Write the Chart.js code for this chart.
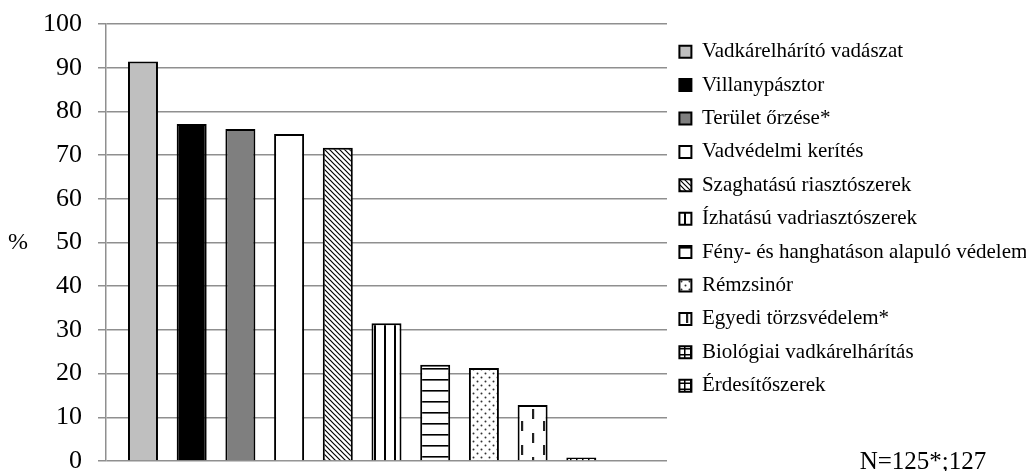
<!DOCTYPE html>
<html>
<head>
<meta charset="utf-8">
<script src="https://cdn.jsdelivr.net/npm/chart.js@4.4.1/dist/chart.umd.min.js"></script>
<style>
  html, body { margin: 0; padding: 0; background: #fff; }
  #wrap { width: 1026px; height: 471px; }
</style>
</head>
<body>
<div id="wrap"><canvas id="chart"></canvas></div>
<script>
const methods = [
  "Vadkárelhárító vadászat",
  "Villanypásztor",
  "Terület őrzése*",
  "Vadvédelmi kerítés",
  "Szaghatású riasztószerek",
  "Ízhatású vadriasztószerek",
  "Fény- és hanghatáson alapuló védelem",
  "Rémzsinór",
  "Egyedi törzsvédelem*",
  "Biológiai vadkárelhárítás",
  "Érdesítőszerek"
];
const percentages = [91.4, 77.1, 76.0, 74.8, 71.7, 31.5, 22.0, 21.3, 12.8, 0.8, 0];
const yMin = 0;
const yMax = 100;
const yStep = 10;
const axisUnit = "%";
const sampleNote = "N=125*;127";

const FONT = '"Liberation Serif", "Times New Roman", serif';
const GRID = "#8f8f8f";

// small tiles used as bar fills
function tile(w, h, draw) {
  const c = document.createElement("canvas");
  c.width = w;
  c.height = h;
  const g = c.getContext("2d");
  g.fillStyle = "#fff";
  g.fillRect(0, 0, w, h);
  g.fillStyle = "#000";
  g.strokeStyle = "#000";
  draw(g);
  return g.createPattern(c, "repeat");
}

const fills = [
  "#bfbfbf",
  "#000000",
  "#7f7f7f",
  "#ffffff",
  tile(5, 5, g => {
    g.lineWidth = 1.2;
    g.beginPath();
    g.moveTo(-1, -1); g.lineTo(6, 6);
    g.moveTo(-1, 4); g.lineTo(1, 6);
    g.moveTo(4, -1); g.lineTo(6, 1);
    g.stroke();
  }),
  tile(10, 4, g => { g.fillRect(4, 0, 2, 4); }),
  tile(4, 11, g => { g.fillRect(0, 5, 4, 1.6); }),
  tile(8, 8, g => {
    g.fillStyle = "#333";
    g.beginPath();
    g.arc(1.5, 1.5, 1, 0, Math.PI * 2);
    g.arc(5.5, 5.5, 1, 0, Math.PI * 2);
    g.fill();
  }),
  tile(22, 24, g => {
    g.fillStyle = "#222";
    g.fillRect(4, 1, 2.2, 10);
    g.fillRect(15, 13, 2.2, 10);
  }),
  tile(6, 6, g => { g.fillRect(0, 0, 6, 1.5); g.fillRect(0, 0, 1.5, 6); }),
  tile(6, 6, g => { g.fillRect(0, 4.5, 6, 1.5); g.fillRect(0, 0, 1.5, 6); })
];

const datasets = methods.map((name, i) => ({
  label: name,
  data: [percentages[i]],
  backgroundColor: fills[i],
  borderColor: "#000",
  borderWidth: 2
}));

const extraText = {
  id: "extraText",
  afterDraw(chart) {
    const { ctx, chartArea } = chart;
    ctx.save();
    ctx.fillStyle = "#000";
    ctx.textAlign = "center";
    ctx.textBaseline = "middle";
    ctx.font = "24px " + FONT;
    ctx.fillText(axisUnit, 18, (chartArea.top + chartArea.bottom) / 2);
    ctx.font = "25px " + FONT;
    ctx.fillText(sampleNote, 923, 462);
    ctx.restore();
  }
};

new Chart(document.getElementById("chart"), {
  type: "bar",
  data: { labels: [""], datasets },
  plugins: [extraText],
  options: {
    responsive: true,
    maintainAspectRatio: false,
    animation: false,
    layout: { padding: { left: 40, right: 0, top: 0, bottom: 0 } },
    datasets: {
      bar: { categoryPercentage: 0.955, barPercentage: 0.616 }
    },
    plugins: {
      tooltip: { enabled: false },
      legend: {
        position: "right",
        align: "start",
        maxWidth: 359,
        title: { display: true, text: "", font: { size: 24 } },
        labels: {
          color: "#000",
          font: { family: FONT, size: 21 },
          boxWidth: 12,
          boxHeight: 12,
          padding: 12.4
        }
      }
    },
    scales: {
      x: { display: false },
      y: {
        min: yMin,
        max: yMax,
        ticks: {
          stepSize: yStep,
          color: "#000",
          padding: 16,
          font: { family: FONT, size: 26 }
        },
        grid: { color: GRID, lineWidth: 1.5, tickLength: 8, tickColor: GRID },
        border: { color: GRID, width: 1.5 },
        afterFit(scale) {
          scale.width = 66;
          scale.paddingTop = 24;
          scale.paddingBottom = 10;
        }
      }
    }
  }
});
</script>
</body>
</html>
